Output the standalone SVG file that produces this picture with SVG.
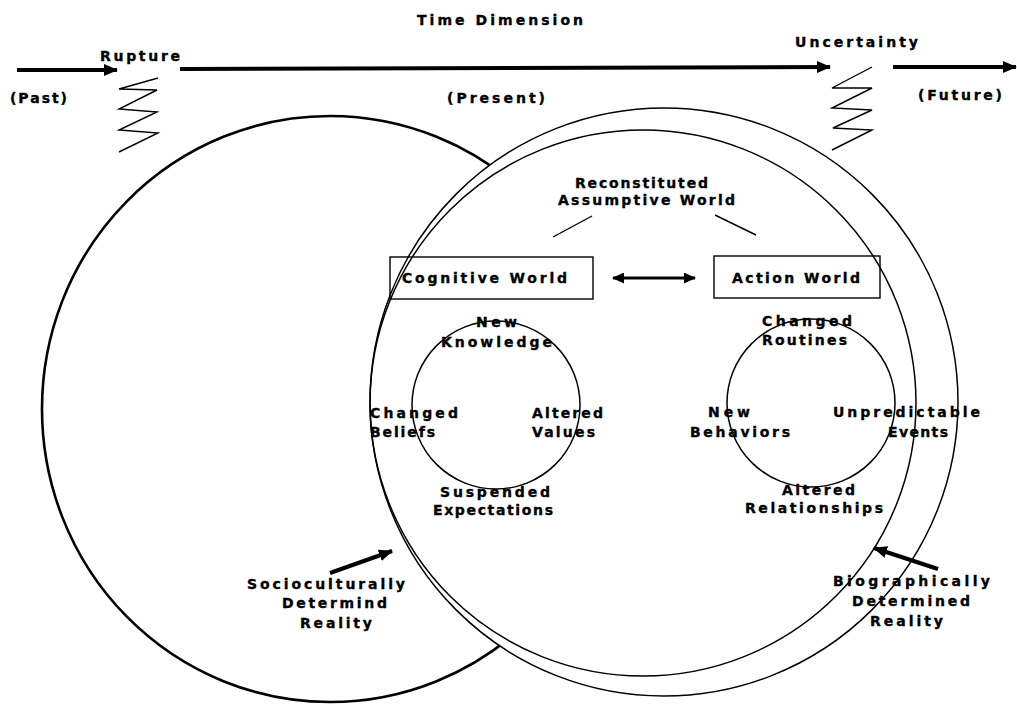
<svg xmlns="http://www.w3.org/2000/svg" width="1017" height="705" viewBox="0 0 1017 705">
<style>
text{font-family:"DejaVu Sans","Liberation Sans",sans-serif;font-weight:bold;font-size:14px;fill:#000;stroke:#000;stroke-width:0.35}
.c{fill:none;stroke:#000;stroke-width:1.5}
.box{fill:none;stroke:#000;stroke-width:1.4}
.thick{fill:none;stroke:#000;stroke-width:4}
.med{fill:none;stroke:#000;stroke-width:3}
.thin{fill:none;stroke:#000;stroke-width:1.4}
</style>
<defs>
<marker id="ah" markerUnits="userSpaceOnUse" markerWidth="14" markerHeight="12" refX="13" refY="6" orient="auto">
<path d="M0,0 L14,6 L0,12 z" fill="#000"/>
</marker>
<marker id="ahs" markerUnits="userSpaceOnUse" markerWidth="12" markerHeight="11" refX="11" refY="5.5" orient="auto-start-reverse">
<path d="M0,0 L12,5.5 L0,11 z" fill="#000"/>
</marker>
</defs>
<rect width="1017" height="705" fill="#fff"/>

<g id="socio-circle"><ellipse cx="330" cy="409" rx="288" ry="293" fill="none" stroke="#000" stroke-width="2.6"/></g>
<g id="bio-circle"><circle cx="664" cy="402" r="294" fill="#fff" stroke="#000" stroke-width="1.5"/></g>
<g id="assumptive-circle"><circle cx="643" cy="403" r="273" class="c"/></g>

<g id="time-axis">
<text x="417" y="25" textLength="166" lengthAdjust="spacing">Time Dimension</text>
<text x="100" y="61" textLength="80" lengthAdjust="spacing">Rupture</text>
<text x="10" y="103" textLength="57" lengthAdjust="spacing">(Past)</text>
<text x="447" y="103" textLength="98" lengthAdjust="spacing">(Present)</text>
<text x="795" y="47" textLength="123" lengthAdjust="spacing">Uncertainty</text>
<text x="918" y="100" textLength="84" lengthAdjust="spacing">(Future)</text>
</g>
<g id="rupture-zigzag"><polyline class="thin" points="158,78 119,89 157,90 119,109 157,112 119,130 158,133 119,152"/></g>
<g id="uncertainty-zigzag"><polyline class="thin" points="872,67 832,88 872,88 832,108 872,110 833,128 872,130 832,150"/></g>

<g id="reconstituted">
<text x="575" y="188" textLength="133" lengthAdjust="spacing">Reconstituted</text>
<text x="558" y="205" textLength="177" lengthAdjust="spacing">Assumptive World</text>
</g>

<g id="cognitive-world">
<rect class="box" x="390" y="257" width="203" height="42"/>
<text x="402" y="283" textLength="165" lengthAdjust="spacing">Cognitive World</text>
</g>
<g id="action-world">
<rect class="box" x="714" y="256" width="166" height="42"/>
<text x="732" y="283" textLength="128" lengthAdjust="spacing">Action World</text>
</g>

<g id="cognitive-cycle">
<circle cx="496" cy="405" r="84" class="c"/>
<text x="476" y="327" textLength="41" lengthAdjust="spacing">New</text>
<text x="441" y="347" textLength="111" lengthAdjust="spacing">Knowledge</text>
<text x="370" y="418" textLength="88" lengthAdjust="spacing">Changed</text>
<text x="370" y="437" textLength="65" lengthAdjust="spacing">Beliefs</text>
<text x="532" y="418" textLength="71" lengthAdjust="spacing">Altered</text>
<text x="532" y="437" textLength="63" lengthAdjust="spacing">Values</text>
<text x="440" y="497" textLength="110" lengthAdjust="spacing">Suspended</text>
<text x="433" y="515" textLength="120" lengthAdjust="spacing">Expectations</text>
</g>

<g id="action-cycle">
<circle cx="811" cy="403" r="84" class="c"/>
<text x="762" y="326" textLength="90" lengthAdjust="spacing">Changed</text>
<text x="762" y="345" textLength="85" lengthAdjust="spacing">Routines</text>
<text x="708" y="417" textLength="42" lengthAdjust="spacing">New</text>
<text x="690" y="437" textLength="100" lengthAdjust="spacing">Behaviors</text>
<text x="833" y="417" textLength="147" lengthAdjust="spacing">Unpredictable</text>
<text x="888" y="437" textLength="60" lengthAdjust="spacing">Events</text>
<text x="782" y="495" textLength="73" lengthAdjust="spacing">Altered</text>
<text x="745" y="513" textLength="138" lengthAdjust="spacing">Relationships</text>
</g>

<g id="socio-label">
<text x="247" y="589" textLength="158" lengthAdjust="spacing">Socioculturally</text>
<text x="282" y="608" textLength="105" lengthAdjust="spacing">Determind</text>
<text x="300" y="628" textLength="72" lengthAdjust="spacing">Reality</text>
</g>
<g id="bio-label">
<text x="833" y="586" textLength="157" lengthAdjust="spacing">Biographically</text>
<text x="852" y="606" textLength="118" lengthAdjust="spacing">Determined</text>
<text x="870" y="626" textLength="73" lengthAdjust="spacing">Reality</text>
</g>

<g id="connectors">
<line class="thick" x1="17" y1="70" x2="117" y2="70" marker-end="url(#ah)"/>
<line class="thick" x1="180" y1="69" x2="830" y2="67" marker-end="url(#ah)"/>
<line class="thick" x1="893" y1="67" x2="1016" y2="67" marker-end="url(#ah)"/>
<line class="thin" x1="592" y1="216" x2="553" y2="237"/>
<line class="thin" x1="715" y1="215" x2="756" y2="235"/>
<line class="med" x1="613" y1="278" x2="695" y2="278" marker-start="url(#ahs)" marker-end="url(#ahs)"/>
<line class="thick" x1="330" y1="573" x2="392" y2="551" marker-end="url(#ah)"/>
<line class="thick" x1="938" y1="569" x2="874" y2="548" marker-end="url(#ah)"/>
</g>
</svg>
